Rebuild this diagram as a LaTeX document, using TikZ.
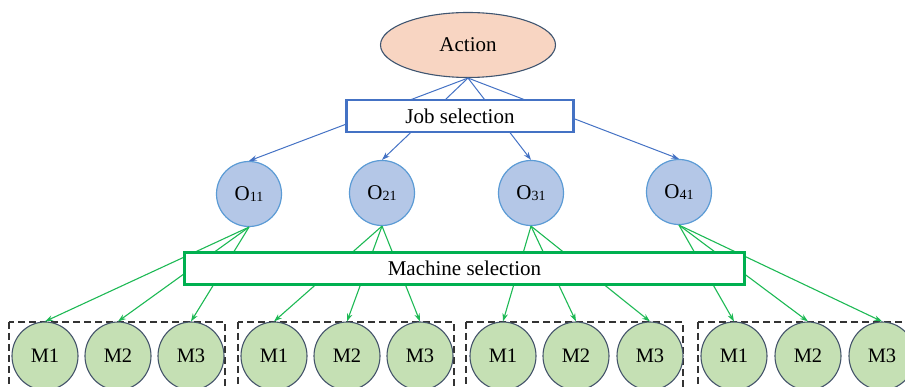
\documentclass[tikz,border=0pt]{standalone}
\usepackage{fontspec}
\setmainfont{Liberation Serif}
\usetikzlibrary{shapes.geometric,arrows.meta}
\definecolor{actfill}{HTML}{F8D5C2}
\definecolor{actdraw}{HTML}{3F5570}
\definecolor{jobblue}{HTML}{4472C4}
\definecolor{opfill}{HTML}{B4C7E7}
\definecolor{opdraw}{HTML}{5B9BD5}
\definecolor{machgreen}{HTML}{00B050}
\definecolor{linkgreen}{HTML}{1DB954}
\definecolor{mfill}{HTML}{C5E0B4}
\definecolor{mdraw}{HTML}{44546A}
\tikzset{
  txt/.style={font=\fontsize{21}{25}\selectfont},
  actnode/.style={ellipse, draw=actdraw, line width=1.1pt, fill=actfill,
    minimum width=175pt, minimum height=65pt, inner sep=0pt, txt},
  jobbox/.style={rectangle, draw=jobblue, line width=2.4pt, fill=white,
    minimum width=227pt, minimum height=32pt, inner sep=0pt, txt},
  machbox/.style={rectangle, draw=machgreen, line width=2.8pt, fill=white,
    minimum width=560pt, minimum height=32pt, inner sep=0pt, txt},
  opnode/.style={circle, draw=opdraw, line width=1.2pt, fill=opfill,
    minimum size=65pt, inner sep=0pt, txt},
  mnode/.style={ellipse, draw=mdraw, line width=1.1pt, fill=mfill,
    minimum width=66pt, minimum height=68pt, inner sep=0pt, font=\fontsize{20.5}{24}\selectfont},
  blueline/.style={draw=jobblue, line width=1pt, -{Stealth[length=8pt,width=5.5pt]}},
  greenline/.style={draw=linkgreen, line width=1.1pt, -{Stealth[length=8pt,width=5.5pt]}},
  group/.style={draw=black!80, line width=1.1pt, dash pattern=on 7pt off 4pt},
}
\newcommand{\opname}[1]{O\raisebox{-1.5pt}{\fontsize{14}{14}\selectfont #1}}
\begin{document}
\begin{tikzpicture}[x=1pt,y=-1pt]
\useasboundingbox (0,0) rectangle (905,387);
\clip (0,0) rectangle (905,387);

% top of the tree
\node[actnode] (act) at (468,45) {Action};

% operations
\node[opnode] (o1) at (249,194) {\opname{11}};
\node[opnode] (o2) at (382,193) {\opname{21}};
\node[opnode] (o3) at (531,193) {\opname{31}};
\node[opnode] (o4) at (679,192) {\opname{41}};

% machine groups (dashed frames)
\draw[group] (9,322) rectangle (225,400);
\draw[group] (238,322) rectangle (454,400);
\draw[group] (466,322) rectangle (683,400);
\draw[group] (698,322) rectangle (920,400);

% machines
\foreach \g/\xa/\xb/\xc in {1/45/118/191, 2/274/347/420, 3/503/576/650, 4/734/808/882}{
  \node[mnode] (m\g a) at (\xa,356) {M1};
  \node[mnode] (m\g b) at (\xb,356) {M2};
  \node[mnode] (m\g c) at (\xc,356) {M3};
}

% job selection links
\foreach \i in {1,2,3,4}{
  \draw[blueline] (act.south) -- (o\i.north);
}
\node[jobbox] (job) at (460,116) {Job selection};

% machine selection links
\foreach \i in {1,2,3,4}{
  \draw[greenline] (o\i.south) -- (m\i a.north);
  \draw[greenline] (o\i.south) -- (m\i b.north);
  \draw[greenline] (o\i.south) -- (m\i c.north);
}
\node[machbox] (mach) at (464.5,268.5) {Machine selection};
\end{tikzpicture}
\end{document}
